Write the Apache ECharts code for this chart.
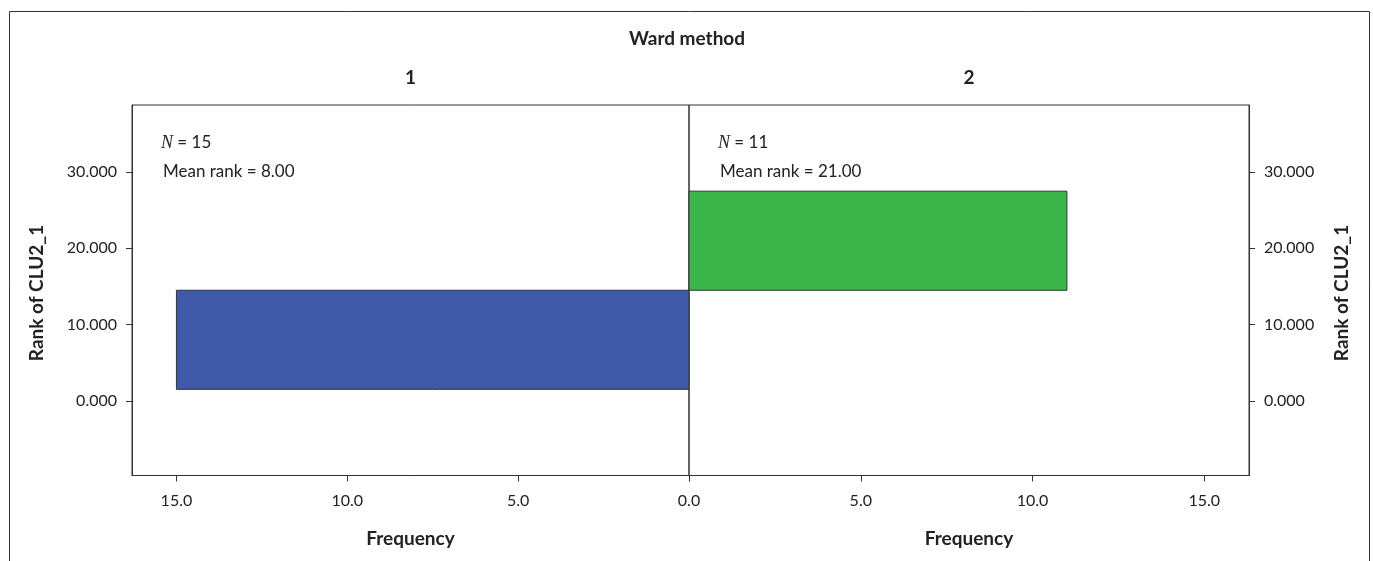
<!DOCTYPE html>
<html>
<head>
<meta charset="utf-8">
<script src="https://cdn.jsdelivr.net/npm/echarts@6/dist/echarts.min.js"></script>
<style>
html,body{margin:0;padding:0;background:#fff;}
#chart{width:1373px;height:561px;}
</style>
</head>
<body>
<div id="chart"></div>
<script>
// ---- data ----
const groups = ['1', '2'];
const counts = [15, 11];
const binLow = [1.5, 14.5];
const binHigh = [14.5, 27.5];
const meanRanks = [8.00, 21.00];
const yTicks = [0, 10, 20, 30];
const xTicks = [0, 5, 10, 15];
const barColors = ['#3e59a7', '#3bb54a'];

const FONT = 'Lato';
const chart = echarts.init(document.getElementById('chart'));

function barSeries(i) {
  return {
    type: 'custom',
    xAxisIndex: i,
    yAxisIndex: i,
    data: [[counts[i], binLow[i], binHigh[i]]],
    renderItem: function (params, api) {
      const p0 = api.coord([0, api.value(2)]);
      const p1 = api.coord([api.value(0), api.value(1)]);
      const x = Math.min(p0[0], p1[0]);
      const y = Math.min(p0[1], p1[1]);
      return {
        type: 'rect',
        shape: { x: x, y: y, width: Math.abs(p1[0] - p0[0]), height: Math.abs(p1[1] - p0[1]) },
        style: { fill: barColors[i], stroke: '#333', lineWidth: 1 }
      };
    }
  };
}

function xAxisCfg(i, labelValues) {
  return {
    type: 'value', gridIndex: i, min: 0, max: 16.3, inverse: i === 0,
    splitLine: { show: false },
    axisLine: { show: true, onZero: false, lineStyle: { color: '#333' } },
    axisTick: { show: true, inside: false, length: 6, customValues: xTicks, lineStyle: { color: '#333' } },
    axisLabel: { color: '#222', fontFamily: FONT, fontSize: 16, margin: 17, customValues: labelValues,
      formatter: v => v.toFixed(1) }
  };
}
function yAxisCfg(i, pos) {
  return {
    type: 'value', gridIndex: i, min: -9.8, max: 38.8, position: pos,
    splitLine: { show: false },
    axisLine: { show: true, onZero: false, lineStyle: { color: '#333' } },
    axisTick: { show: true, inside: false, length: 6, customValues: yTicks, lineStyle: { color: '#333' } },
    axisLabel: { color: '#222', fontFamily: FONT, fontSize: 16, margin: 15, customValues: yTicks,
      formatter: v => v.toFixed(3) }
  };
}

function nText(i, x) {
  return [
    { type: 'text', x: x - 2, y: 143, style: {
      text: '{i|N} = ' + counts[i], verticalAlign: 'middle',
      rich: { i: { fontFamily: 'Liberation Serif', fontStyle: 'italic', fontSize: 18, fill: '#222' } },
      font: '17px ' + FONT, fill: '#222' } },
    { type: 'text', x: x, y: 172, style: {
      text: 'Mean rank = ' + meanRanks[i].toFixed(2), font: '17px ' + FONT, fill: '#222',
      verticalAlign: 'middle' } }
  ];
}

const boldFont = 'bold 19px ' + FONT;
function boldText(x, y, t, rot) {
  return { type: 'text', x: x, y: y, rotation: rot || 0, style: { text: t, font: boldFont,
    fill: '#222', align: 'center', verticalAlign: 'middle' } };
}

chart.setOption({
  animation: false,
  grid: [
    { left: 132, right: 684, top: 105, bottom: 85.5, show: true, borderColor: '#333', borderWidth: 1 },
    { left: 689, right: 124, top: 105, bottom: 85.5, show: true, borderColor: '#333', borderWidth: 1 }
  ],
  xAxis: [ xAxisCfg(0, [5, 10, 15]), xAxisCfg(1, xTicks) ],
  yAxis: [ yAxisCfg(0, 'left'), yAxisCfg(1, 'right') ],
  series: [barSeries(0), barSeries(1)],
  graphic: [
    { type: 'rect', shape: { x: 9.5, y: 11.5, width: 1360, height: 700 },
      style: { fill: 'none', stroke: '#333', lineWidth: 1 }, z: -1 },
    boldText(687, 39, 'Ward method'),
    boldText(410.5, 78, groups[0]),
    boldText(969, 78, groups[1]),
    boldText(410.5, 539, 'Frequency'),
    boldText(969, 539, 'Frequency'),
    boldText(37, 293, 'Rank of CLU2_1', Math.PI / 2),
    boldText(1342, 293, 'Rank of CLU2_1', Math.PI / 2)
  ].concat(nText(0, 163), nText(1, 720))
});
</script>
</body>
</html>
